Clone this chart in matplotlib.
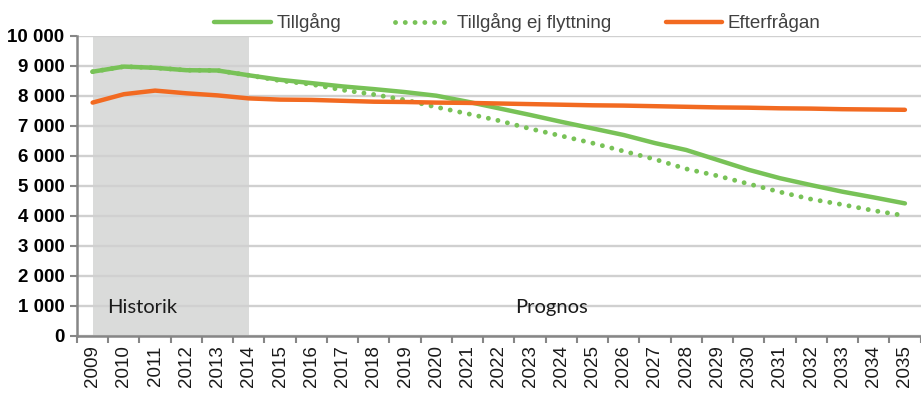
import matplotlib
matplotlib.use("Agg")
import matplotlib.pyplot as plt
from matplotlib.ticker import FuncFormatter, FixedLocator
import numpy as np

years = list(range(2009, 2036))
tillgang = [8800, 8970, 8930, 8850, 8840, 8680, 8530, 8420, 8310, 8220, 8120, 8000,
            7800, 7580, 7360, 7130, 6910, 6690, 6420, 6190, 5860, 5530, 5250, 5020,
            4800, 4610, 4410]
tillgang_ej = [8800, 8970, 8930, 8850, 8840, 8680, 8500, 8380, 8190, 8040, 7860, 7620,
               7400, 7170, 6900, 6660, 6420, 6150, 5880, 5560, 5330, 5060, 4790, 4550,
               4370, 4170, 4000]
efterfragan = [7770, 8050, 8170, 8080, 8010, 7910, 7870, 7860, 7830, 7800, 7790, 7770,
               7760, 7740, 7720, 7700, 7680, 7670, 7650, 7630, 7610, 7600, 7580, 7570,
               7550, 7540, 7530]
series_names = ["Tillgång", "Tillgång ej flyttning", "Efterfrågan"]
yticks = list(range(0, 10001, 1000))

GREEN = "#78C257"
ORANGE = "#F26A21"
GRID = "#D0D0D0"
AXIS = "#868686"

fig = plt.figure(figsize=(9.21, 4.13), dpi=100)
ax = fig.add_axes([77/921, 1 - 335.7/413, 1 - 77/921 - 0.0005, 300/413])

x = np.arange(len(years))
ax.axvspan(0, 5, ymin=0, ymax=1, color="#DADBDA", zorder=0, lw=0)

l1, = ax.plot(x, tillgang, color=GREEN, lw=3.2, solid_capstyle="round", zorder=3)
l2, = ax.plot(x, tillgang_ej, color=GREEN, lw=3.5, linestyle=(0, (0.01, 2.0)),
              dash_capstyle="round", zorder=3)
l3, = ax.plot(x, efterfragan, color=ORANGE, lw=3.2, solid_capstyle="round", zorder=4)

ax.set_xlim(-0.5, len(years) - 0.5)
ax.set_ylim(0, 10000)
ax.set_yticks(yticks)
ax.yaxis.set_major_formatter(FuncFormatter(lambda v, p: f"{int(v):,}".replace(",", " ")))
ax.grid(axis="y", color=GRID, lw=1.7, zorder=1)
ax.set_axisbelow(True)

ax.set_xticks(x)
ax.set_xticklabels([str(y) for y in years], rotation=90, fontsize=13.5,
                   fontfamily="Liberation Sans", color="#1a1a1a")
ax.xaxis.set_minor_locator(FixedLocator(np.arange(-0.5, len(years), 1.0)))
ax.tick_params(axis="x", which="major", length=0, pad=7)
ax.tick_params(axis="x", which="minor", length=5, width=1.5, color=AXIS)
ax.tick_params(axis="y", length=5, width=1.5, color=AXIS, pad=4)
for lab in ax.get_yticklabels():
    lab.set_fontfamily("Liberation Sans")
    lab.set_fontweight("bold")
    lab.set_fontsize(13.5)
    lab.set_color("black")

for s in ["top", "right"]:
    ax.spines[s].set_visible(False)
for s in ["left", "bottom"]:
    ax.spines[s].set_color(AXIS)
    ax.spines[s].set_linewidth(1.8)

ax.text(0.45, 930, "Historik", fontsize=14.5, fontfamily="Lato", color="#1a1a1a",
        va="center", ha="left", zorder=5)
ax.text(14.7, 930, "Prognos", fontsize=14.5, fontfamily="Lato", color="#1a1a1a",
        va="center", ha="center", zorder=5)

leg = fig.legend([l1, l2, l3], series_names, loc="center", bbox_to_anchor=(0.562, 1 - 23/413),
                 ncol=3, frameon=False, handlelength=3.0, handletextpad=0.3,
                 columnspacing=2.9, prop={"family": "Liberation Sans", "size": 13.5})
for t in leg.get_texts():
    t.set_color("#404040")

fig.savefig("out.png", dpi=100)
